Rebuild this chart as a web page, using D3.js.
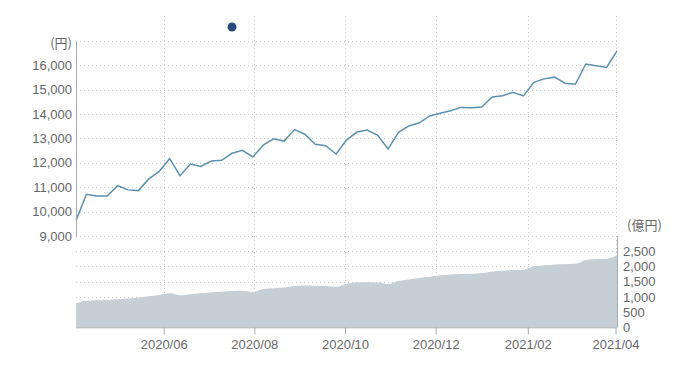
<!DOCTYPE html>
<html><head><meta charset="utf-8">
<script src="https://cdn.jsdelivr.net/npm/d3@7"></script>
<style>
body{margin:0;background:#fff;}
svg{display:block;font-family:"Noto Sans CJK JP","Noto Sans",sans-serif;}
</style></head>
<body><svg id="c" width="674" height="365"></svg>
<script>
const startDate = "2020-04-03";
const price = [9630,10710,10640,10640,11060,10890,10860,11340,11650,12170,
11470,11950,11850,12070,12100,12390,12510,12240,12730,12980,
12890,13360,13170,12760,12700,12360,12930,13260,13340,13130,
12570,13250,13510,13640,13920,14030,14130,14270,14260,14290,
14700,14750,14890,14740,15300,15440,15510,15260,15220,16050,
15980,15910,16590];
const assets = [790,875,890,900,920,950,980,1020,1060,1115,
1055,1090,1115,1150,1170,1190,1200,1165,1260,1285,
1305,1355,1370,1365,1360,1330,1425,1480,1480,1475,
1420,1520,1570,1620,1660,1710,1735,1755,1760,1775,
1830,1855,1880,1895,2000,2035,2065,2075,2085,2215,
2245,2255,2370];
const priceTicks = [9000,10000,11000,12000,13000,14000,15000,16000,17000];
const assetTicks = [0,500,1000,1500,2000,2500];
const xTickLabels = ["2020/06","2020/08","2020/10","2020/12","2021/02","2021/04"];
const priceUnit = "(円)";
const assetUnit = "(億円)";

const parse = d3.timeParse("%Y-%m-%d");
const d0 = parse(startDate);
const dates = price.map((_, i) => d3.timeDay.offset(d0, i * 7));
const tickDates = xTickLabels.map(s => d3.timeParse("%Y/%m")(s));

const svg = d3.select("#c");
const L = 76, R = 617;
const x = d3.scaleTime().domain([dates[0], dates[dates.length-1]]).range([L, R]);
const yP = d3.scaleLinear().domain([9000, 17000]).range([236, 40.8]);
const yA = d3.scaleLinear().domain([0, 3000]).range([327.3, 236]);

const grid = "#c8c8c8";
const fs = 13;
svg.append("g").selectAll("line").data(priceTicks).join("line")
  .attr("x1", L).attr("x2", R).attr("y1", d => Math.round(yP(d))+0.5).attr("y2", d => Math.round(yP(d))+0.5)
  .attr("stroke", grid).attr("stroke-dasharray", "1,3");
svg.append("g").selectAll("line").data(assetTicks.filter(d => d > 0)).join("line")
  .attr("x1", L).attr("x2", R).attr("y1", d => Math.round(yA(d))+0.5).attr("y2", d => Math.round(yA(d))+0.5)
  .attr("stroke", grid).attr("stroke-dasharray", "1,3");
svg.append("g").selectAll("line").data(tickDates).join("line")
  .attr("x1", d => Math.round(x(d))+0.5).attr("x2", d => Math.round(x(d))+0.5)
  .attr("y1", 16).attr("y2", 327)
  .attr("stroke", grid).attr("stroke-dasharray", "1,3");

svg.append("path").datum(assets)
  .attr("d", d3.area().x((d, i) => x(dates[i])).y0(yA(0)).y1(d => yA(d)).curve(d3.curveMonotoneX))
  .attr("fill", "#c6ced6");

svg.append("path").datum(price)
  .attr("d", d3.line().x((d, i) => x(dates[i])).y(d => yP(d)))
  .attr("fill", "none").attr("stroke", "#5b91b0").attr("stroke-width", 1.5);

const axisCol = "#aaaaaa";
const gl = svg.append("g").attr("transform", `translate(${L},0)`)
  .call(d3.axisLeft(yP).tickValues(priceTicks.slice(0, -1)).tickSize(0).tickPadding(4).tickFormat(d3.format(",")));
gl.select(".domain").attr("stroke", axisCol).attr("d", `M0.5,${yP(17000)}V${yP(9000)}`);
gl.selectAll("text").attr("fill", "#666").attr("font-size", fs).attr("font-family", "inherit");

const gr = svg.append("g").attr("transform", `translate(${R},0)`)
  .call(d3.axisRight(yA).tickValues(assetTicks).tickSize(0).tickPadding(6).tickFormat(d3.format(",")));
gr.select(".domain").attr("stroke", axisCol).attr("d", `M0.5,${yA(3000)}V${yA(0)}`);
gr.selectAll("text").attr("fill", "#666").attr("font-size", fs).attr("font-family", "inherit");

const gb = svg.append("g").attr("transform", `translate(0,${yA(0)})`)
  .call(d3.axisBottom(x).tickValues(tickDates).tickSize(7).tickPadding(5).tickFormat(d3.timeFormat("%Y/%m")));
gb.select(".domain").attr("stroke", axisCol).attr("d", `M${L},0.5H${R}`);
gb.selectAll("line").attr("stroke", axisCol);
gb.selectAll("text").attr("fill", "#666").attr("font-size", fs).attr("font-family", "inherit");

svg.append("text").attr("x", 72).attr("y", 48).attr("text-anchor", "end")
  .attr("fill", "#666").attr("font-size", fs).text(priceUnit);
svg.append("text").attr("x", 627).attr("y", 230).attr("text-anchor", "start")
  .attr("fill", "#666").attr("font-size", fs).text(assetUnit);

svg.append("circle").attr("cx", 232).attr("cy", 27).attr("r", 4.5).attr("fill", "#2a4a7f");
</script></body></html>
